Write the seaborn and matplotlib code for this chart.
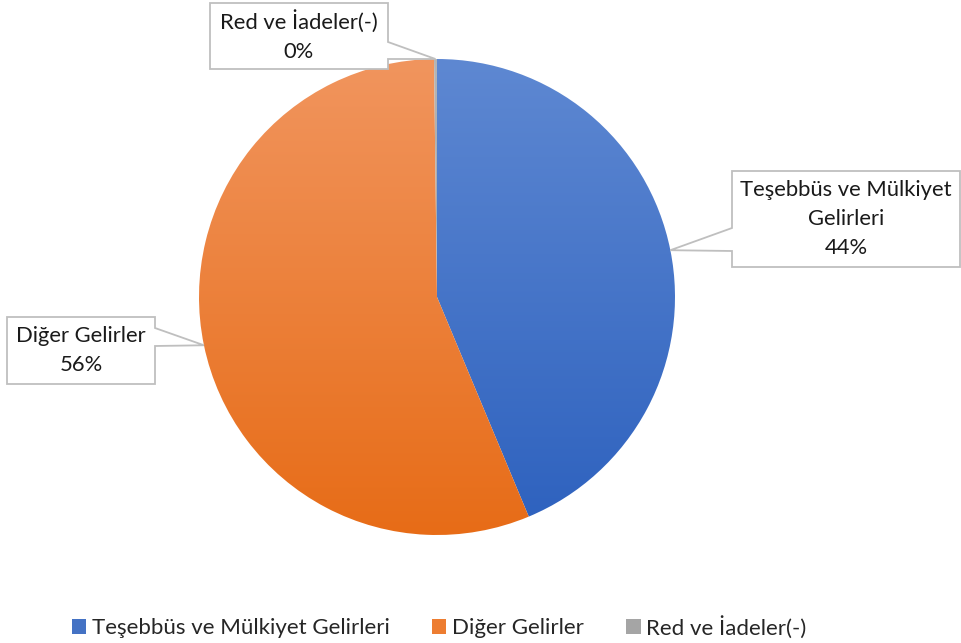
import numpy as np
import matplotlib
matplotlib.use("Agg")
import matplotlib.pyplot as plt
from matplotlib.colors import LinearSegmentedColormap
from matplotlib.patches import Patch, Polygon
import seaborn as sns

# data
categories = ["Teşebbüs ve Mülkiyet Gelirleri", "Diğer Gelirler", "Red ve İadeler(-)"]
box_labels = ["Teşebbüs ve Mülkiyet\nGelirleri", "Diğer Gelirler", "Red ve İadeler(-)"]
shares = [43.7, 56.1, 0.2]
colors = ["#4472C4", "#ED7D31", "#A5A5A5"]
grad_top = ["#5E88D2", "#F1955E", "#B5B5B5"]
grad_bottom = ["#2D61BE", "#E76C17", "#9A9A9A"]

sns.set_theme(style="white")
plt.rcParams['font.family'] = ['Lato', 'DejaVu Sans']

W, H = 961, 643
CX, CY, R = 437, 297, 238  # pie centre / radius in pixels

fig = plt.figure(figsize=(W / 100, H / 100), dpi=100)
ax = fig.add_axes([(CX - R) / W, (H - CY - R) / H, 2 * R / W, 2 * R / H])

wedges, _ = ax.pie(shares, colors=colors, startangle=90, counterclock=False,
                   radius=1.0, wedgeprops=dict(linewidth=0))
ax.set_xlim(-1, 1)
ax.set_ylim(-1, 1)
ax.set_aspect("equal")
ax.axis("off")

# vertical gradient fill inside each wedge
grad = np.linspace(0, 1, 256).reshape(-1, 1)
for w, top, bot in zip(wedges, grad_top, grad_bottom):
    cmap = LinearSegmentedColormap.from_list("g", [top, bot])
    im = ax.imshow(grad, cmap=cmap, extent=(-1, 1, -1, 1), origin="upper",
                   aspect="auto", zorder=w.get_zorder())
    im.set_clip_path(w)
    w.set_facecolor("none")


def px(x, y):
    return ((x - CX) / R, (CY - y) / R)


# callout boxes: (left, top, right, bottom) in pixels, side of notch, notch y-range
boxes = [(732, 171, 960, 267), (7, 317, 155, 384), (210, 3, 388, 69)]
notch_side = ["left", "right", "right"]
notch_y = [(228, 251), (328, 346), (42, 59)]

pct = [f"{round(s)}%" for s in shares]
for i, w in enumerate(wedges):
    ang = np.deg2rad((w.theta1 + w.theta2) / 2)
    tip = (np.cos(ang), np.sin(ang))
    l, t, r, b = boxes[i]
    n1, n2 = notch_y[i]
    if notch_side[i] == "left":
        pts = [(l, t), (r, t), (r, b), (l, b), (l, n2), None, (l, n1)]
    else:
        pts = [(l, t), (r, t), (r, n1), None, (r, n2), (r, b), (l, b)]
    verts = [tip if p is None else px(*p) for p in pts]
    ax.add_patch(Polygon(verts, closed=True, facecolor="white", edgecolor="#BFBFBF",
                         linewidth=1.3, zorder=4, clip_on=False))
    cx, cy = px((l + r) / 2, (t + b) / 2)
    ax.text(cx, cy, f"{box_labels[i]}\n{pct[i]}", ha="center", va="center",
            fontsize=15.8, color="#1a1a1a", linespacing=1.55, zorder=5, clip_on=False)

handles = [Patch(facecolor=c, edgecolor="none") for c in colors]
fig.legend(handles, categories, loc="center", bbox_to_anchor=(0.457, 0.025), ncol=3,
           frameon=False, fontsize=16, handlelength=0.65, handleheight=0.65,
           handletextpad=0.25, columnspacing=1.9)

fig.savefig("out.png", dpi=100, facecolor="white")
